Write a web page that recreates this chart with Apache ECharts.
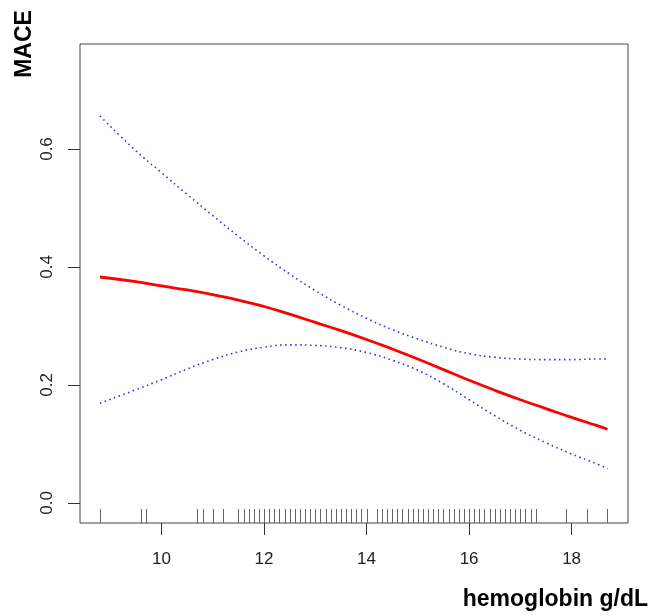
<!DOCTYPE html>
<html>
<head>
<meta charset="utf-8">
<script src="https://cdn.jsdelivr.net/npm/echarts@6/dist/echarts.min.js"></script>
<style>html,body{margin:0;padding:0;background:#fff}#c{width:651px;height:616px}</style>
</head>
<body>
<div id="c"></div>
<script>
// hemoglobin (g/dL) grid for the fitted curves
const xs = [8.8, 9.5, 10, 10.5, 11, 11.5, 12, 12.5, 13, 13.5, 14, 14.5, 15, 15.5, 16, 16.5, 17, 17.5, 18, 18.5, 18.7];
const fit = [0.383, 0.375, 0.368, 0.361, 0.353, 0.344, 0.333, 0.320, 0.306, 0.292, 0.277, 0.261, 0.244, 0.226, 0.208, 0.191, 0.175, 0.160, 0.145, 0.131, 0.125];
const upper = [0.656, 0.597, 0.560, 0.523, 0.487, 0.452, 0.419, 0.388, 0.360, 0.335, 0.313, 0.294, 0.278, 0.264, 0.253, 0.247, 0.244, 0.243, 0.243, 0.244, 0.244];
const lower = [0.169, 0.192, 0.209, 0.227, 0.243, 0.256, 0.264, 0.268, 0.267, 0.263, 0.255, 0.242, 0.225, 0.202, 0.175, 0.148, 0.123, 0.102, 0.083, 0.066, 0.058];
// observed hemoglobin values (rug)
const rug = [8.8, 9.6, 9.7, 10.7, 10.8, 11.0, 11.2, 11.5, 11.6, 11.7, 11.8, 11.9, 12.0, 12.1, 12.2, 12.3, 12.4, 12.5, 12.6, 12.7, 12.8, 12.9, 13.0, 13.1, 13.2, 13.3, 13.4, 13.5, 13.6, 13.7, 13.8, 13.9, 14.0, 14.2, 14.3, 14.4, 14.5, 14.6, 14.7, 14.8, 14.9, 15.0, 15.1, 15.2, 15.3, 15.4, 15.5, 15.6, 15.7, 15.8, 15.9, 16.0, 16.1, 16.2, 16.3, 16.4, 16.5, 16.6, 16.7, 16.8, 16.9, 17.0, 17.1, 17.2, 17.3, 17.9, 18.3, 18.7];
const xTicks = [10, 12, 14, 16, 18];
const yTicks = [0, 0.2, 0.4, 0.6];
const xTitle = 'hemoglobin g/dL';
const yTitle = 'MACE';

const FONT = "'Liberation Sans', Arial, sans-serif";
const zip = (a, b) => a.map((v, i) => [v, b[i]]);
const chart = echarts.init(document.getElementById('c'), null, {renderer: 'canvas'});
const Y_MIN = -0.034, Y_MAX = 0.778;

chart.setOption({
  animation: false,
  backgroundColor: '#fff',
  grid: {left: 80, top: 44, right: 23, bottom: 93, show: true, borderColor: '#444', borderWidth: 1, backgroundColor: 'transparent'},
  xAxis: {
    type: 'value', min: 8.41, max: 19.10,
    axisLine: {show: false, onZero: false},
    splitLine: {show: false},
    axisTick: {show: true, inside: false, length: 12, customValues: xTicks, lineStyle: {color: '#333', width: 1}},
    axisLabel: {customValues: xTicks, margin: 28, fontSize: 17, color: '#222', fontFamily: FONT}
  },
  yAxis: {
    type: 'value', min: Y_MIN, max: Y_MAX,
    axisLine: {show: false, onZero: false},
    splitLine: {show: false},
    axisTick: {show: true, inside: false, length: 12, customValues: yTicks, lineStyle: {color: '#333', width: 1}},
    axisLabel: {customValues: yTicks, rotate: 90, margin: 24, fontSize: 17, color: '#222', fontFamily: FONT,
      formatter: v => v.toFixed(1)}
  },
  series: [
    {type: 'line', data: zip(xs, upper), smooth: 0.5, symbol: 'none',
      lineStyle: {color: '#3535f5', width: 1.6, type: [1.6, 3.4]}},
    {type: 'line', data: zip(xs, lower), smooth: 0.5, symbol: 'none',
      lineStyle: {color: '#3535f5', width: 1.6, type: [1.6, 3.4]}},
    {type: 'line', data: zip(xs, fit), smooth: 0.5, symbol: 'none',
      lineStyle: {color: '#ff0000', width: 2.8}},
    {type: 'custom', data: rug.map(v => [v]),
      renderItem: (params, api) => {
        const p = api.coord([api.value(0), Y_MIN]);
        const x = Math.round(p[0]) + 0.5;
        return {type: 'line', shape: {x1: x, y1: p[1], x2: x, y2: p[1] - 14},
          style: {stroke: '#666', lineWidth: 1}};
      }, silent: true, z: 1}
  ],
  graphic: [
    {type: 'text', x: 25, y: 44, rotation: Math.PI / 2,
      style: {text: yTitle, font: "bold 23px " + FONT, fill: '#000', textAlign: 'center', textVerticalAlign: 'middle'}},
    {type: 'text', x: 648, y: 600,
      style: {text: xTitle, font: "bold 23px " + FONT, fill: '#000', textAlign: 'right', textVerticalAlign: 'middle'}}
  ]
});
</script>
</body>
</html>
